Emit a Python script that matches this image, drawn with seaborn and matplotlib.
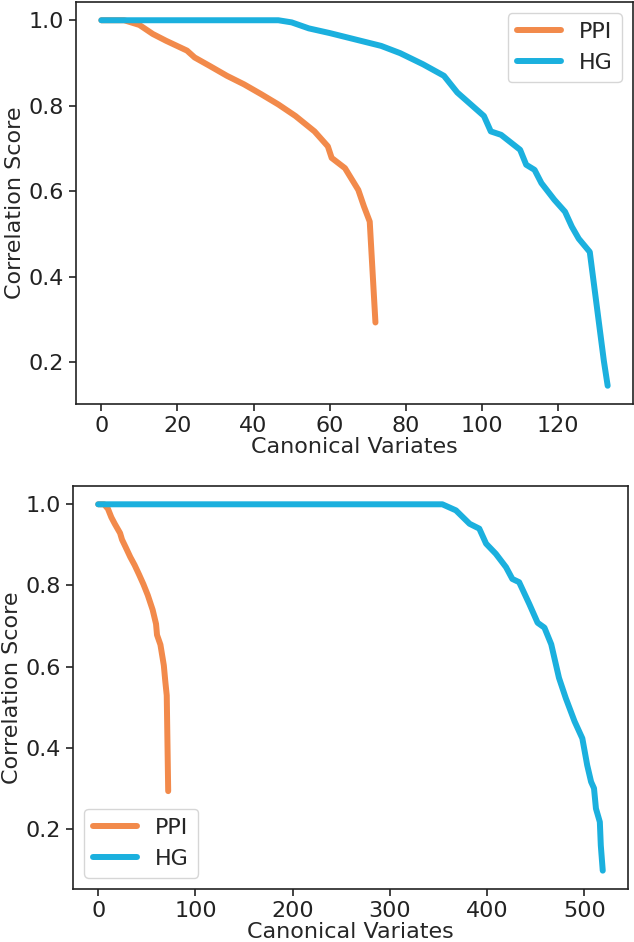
import matplotlib
matplotlib.use("Agg")
import matplotlib.pyplot as plt
import seaborn as sns
import pandas as pd

# PPI curve (same in both panels)
ppi_x = [0, 6, 10, 13.5, 17, 22.5, 24.5, 28.5, 33, 37.5, 42, 46.5, 51, 56, 59.5, 60.5, 64, 67.5, 69, 70.5, 72]
ppi_y = [1.0, 1.0, 0.989, 0.968, 0.952, 0.929, 0.913, 0.893, 0.870, 0.850, 0.827, 0.803, 0.776, 0.740, 0.705, 0.678, 0.654, 0.603, 0.564, 0.529, 0.293]

# HG curve, top panel
hg1_x = [0, 46.5, 50, 54.5, 60, 64.5, 69, 73.5, 78.5, 84.5, 90, 93.5, 100.5, 102.3, 105, 110, 111.6, 113.8, 115.6, 119, 121.8, 123.6, 125.4, 128.3, 132, 133]
hg1_y = [1.0, 1.0, 0.995, 0.981, 0.970, 0.960, 0.950, 0.940, 0.923, 0.897, 0.870, 0.831, 0.776, 0.740, 0.732, 0.697, 0.662, 0.650, 0.619, 0.580, 0.552, 0.517, 0.489, 0.458, 0.203, 0.145]

# HG curve, bottom panel
hg2_x = [0, 354, 368, 382, 392, 399, 409, 419.5, 426, 433, 443.5, 452, 459, 466, 474, 481, 490, 498, 503, 507, 510, 512, 516, 517, 519]
hg2_y = [1.0, 1.0, 0.985, 0.952, 0.940, 0.903, 0.878, 0.845, 0.816, 0.808, 0.754, 0.708, 0.696, 0.655, 0.572, 0.522, 0.465, 0.423, 0.357, 0.316, 0.300, 0.250, 0.217, 0.159, 0.097]

series_names = ["PPI", "HG"]
colors = {"PPI": "#F28A4B", "HG": "#1BB0DE"}
yticks = [0.2, 0.4, 0.6, 0.8, 1.0]
xticks_top = [0, 20, 40, 60, 80, 100, 120]
xticks_bot = [0, 100, 200, 300, 400, 500]

sns.set_style("ticks")
plt.rcParams["font.family"] = ["DejaVu Sans"]

df_top = pd.concat([
    pd.DataFrame({"x": ppi_x, "y": ppi_y, "series": "PPI"}),
    pd.DataFrame({"x": hg1_x, "y": hg1_y, "series": "HG"}),
])
df_bot = pd.concat([
    pd.DataFrame({"x": ppi_x, "y": ppi_y, "series": "PPI"}),
    pd.DataFrame({"x": hg2_x, "y": hg2_y, "series": "HG"}),
])

fig = plt.figure(figsize=(6.34, 9.42), dpi=100)
ax1 = fig.add_axes([0.1199, 0.5711, 0.8785, 0.4268])
ax2 = fig.add_axes([0.1151, 0.0563, 0.8754, 0.4278])

for ax, df, xt, loc in [(ax1, df_top, xticks_top, "upper right"),
                        (ax2, df_bot, xticks_bot, "lower left")]:
    sns.lineplot(data=df, x="x", y="y", hue="series", hue_order=series_names,
                 palette=colors, estimator=None, sort=False, linewidth=4.3, ax=ax)
    ax.set_xticks(xt)
    ax.set_yticks(yticks)
    ax.set_xlabel("Canonical Variates", fontsize=16, labelpad=1)
    ax.set_ylabel("Correlation Score", fontsize=16, labelpad=3)
    ax.tick_params(labelsize=16, length=5, width=1.2, colors="#222222")
    for s in ax.spines.values():
        s.set_color("#222222")
        s.set_linewidth(1.2)
    leg = ax.legend(loc=loc, fontsize=16, handlelength=2.0, frameon=True)
    leg.get_frame().set_edgecolor("#cccccc")
    for h in leg.get_lines():
        h.set_linewidth(4.3)

ax1.margins(x=0.05, y=0.05)
ax2.margins(x=0.05, y=0.05)

fig.savefig("out.png", dpi=100)
